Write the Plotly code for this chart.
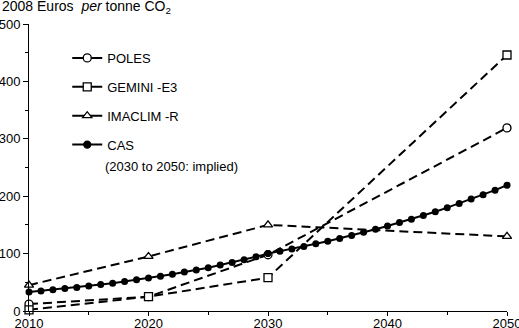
import plotly.graph_objects as go

years_models = [2010, 2020, 2030, 2050]
poles = [12, 25, 98, 319]
gemini = [2, 25, 58, 446]
imaclim = [45, 95, 150, 130]

cas_years = list(range(2010, 2051))
cas = [33, 35, 37, 39, 41, 43.5, 46, 48.5, 51.5, 54.5, 57.5,
       60.5, 64, 68, 71.5, 75.5, 80, 84.5, 89.5, 94.5, 100,
       104, 108, 112.5, 117, 121.5, 126.5, 131.5, 137, 142.5, 148,
       154, 160, 166.5, 173, 180, 187.5, 195, 202.5, 210.5, 219]

names = ["POLES", "GEMINI -E3", "IMACLIM -R", "CAS"]
cas_note = "(2030 to 2050: implied)"
x_ticks = [2010, 2020, 2030, 2040, 2050]
y_ticks = [0, 100, 200, 300, 400, 500]

FONT = "Liberation Sans, Arial, sans-serif"
dash = "9px,5px"

fig = go.Figure()

series = [(poles, "circle"), (gemini, "square"), (imaclim, "triangle-up")]
for vals, sym in series:
    fig.add_trace(go.Scatter(
        x=years_models, y=vals, mode="lines+markers", showlegend=False,
        line=dict(color="black", width=2, dash=dash),
        marker=dict(symbol=sym, size=8, color="white", line=dict(color="black", width=1.3)),
        cliponaxis=False, hoverinfo="skip",
    ))

fig.add_trace(go.Scatter(
    x=cas_years, y=cas, mode="lines+markers", showlegend=False,
    line=dict(color="black", width=2),
    marker=dict(symbol="circle", size=7, color="black"),
    cliponaxis=False, hoverinfo="skip",
))

# legend entries (solid line samples)
legend_syms = [("circle", "white", 8), ("square", "white", 8), ("triangle-up", "white", 8), ("circle", "black", 7)]
for i, (name, (sym, col, sz)) in enumerate(zip(names, legend_syms)):
    fig.add_trace(go.Scatter(
        x=[None], y=[None], mode="lines+markers", name=name, legendgroup=str(i),
        line=dict(color="black", width=2),
        marker=dict(symbol=sym, size=sz, color=col, line=dict(color="black", width=1.3)),
    ))

axis_common = dict(showgrid=False, zeroline=False, showline=True, linecolor="black", linewidth=1,
                   ticks="outside", tickcolor="black", automargin=False,
                   ticklabeloverflow="allow", tickfont=dict(size=13))

fig.update_layout(
    width=519, height=328,
    margin=dict(l=29, r=12, t=24, b=17, autoexpand=False),
    paper_bgcolor="white", plot_bgcolor="white",
    font=dict(family=FONT, size=13, color="black"),
    showlegend=True,
    legend=dict(x=0.08, y=0.934, xanchor="left", yanchor="top",
                bgcolor="rgba(0,0,0,0)", borderwidth=0,
                itemwidth=30, tracegroupgap=9, traceorder="grouped",
                font=dict(family=FONT, size=13, color="black")),
    xaxis=dict(range=[2010, 2050], tickvals=x_ticks, ticktext=[str(v) for v in x_ticks],
               ticklen=4, ticklabelstandoff=-4,
               minor=dict(dtick=5, ticks="outside", ticklen=3, tickcolor="black", showgrid=False),
               **axis_common),
    yaxis=dict(range=[0, 500], tickvals=y_ticks, ticktext=[str(v) for v in y_ticks],
               ticklen=5,
               minor=dict(dtick=50, ticks="outside", ticklen=3, tickcolor="black", showgrid=False),
               **axis_common),
    annotations=[
        dict(text="2008 Euros  <i>per</i> tonne CO<sub>2</sub>",
             xref="paper", yref="paper", x=-29/478, y=1.06,
             xanchor="left", yanchor="middle", showarrow=False,
             font=dict(family=FONT, size=14, color="black")),
        dict(text=cas_note,
             xref="paper", yref="paper", x=(103-29)/478, y=(311.5-167)/287.5,
             xanchor="left", yanchor="middle", showarrow=False,
             font=dict(family=FONT, size=13, color="black")),
    ],
)

fig.write_html("out.html", config={"displayModeBar": False},
               post_script="document.body.style.margin='0';document.body.style.overflow='hidden';")
